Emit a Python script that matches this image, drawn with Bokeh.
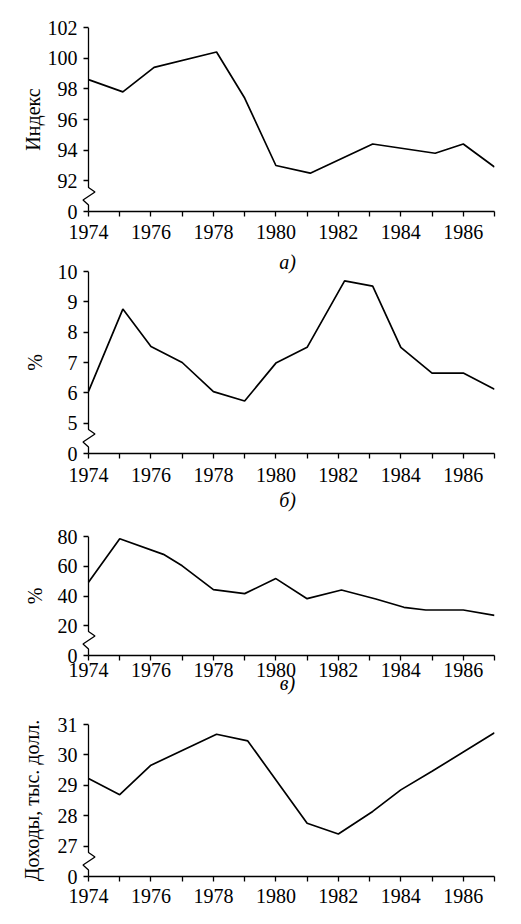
# Четыре графика: индекс, два ряда в %, доходы (1974-1987)
from bokeh.embed import file_html
from bokeh.layouts import column
from bokeh.models import FixedTicker, Range1d
from bokeh.plotting import figure
from bokeh.resources import INLINE

# --- данные ---
years_a = [1974, 1975.1, 1976.1, 1978.1, 1979, 1980, 1981.1, 1983.1, 1985.1, 1986, 1987]
index_a = [98.6, 97.8, 99.4, 100.4, 97.4, 93.0, 92.5, 94.4, 93.8, 94.4, 92.9]

years_b = [1974, 1975.1, 1976, 1977, 1978, 1979, 1980, 1981, 1982.2, 1983.1, 1984, 1985, 1986, 1987]
pct_b = [6.05, 8.76, 7.53, 7.0, 6.04, 5.73, 6.98, 7.5, 9.69, 9.52, 7.5, 6.65, 6.65, 6.12]

years_c = [1974, 1975, 1976.4, 1977, 1978, 1979, 1980, 1981, 1982.1, 1983.2, 1984.1, 1984.8, 1986, 1987]
pct_c = [49.2, 78.5, 68.0, 60.3, 44.3, 41.6, 51.7, 38.2, 44.0, 38.0, 32.4, 30.6, 30.6, 27.0]

years_d = [1974, 1975, 1976, 1978.1, 1979.1, 1981, 1982, 1983.1, 1984, 1985, 1987]
income_d = [29.22, 28.69, 29.66, 30.68, 30.46, 27.75, 27.4, 28.14, 28.85, 29.46, 30.73]

x_ticks = list(range(1974, 1988))
x_labels = {y: "" for y in x_ticks if y % 2 == 1}

ticks_a = [90, 92, 94, 96, 98, 100, 102]
ticks_b = [4, 5, 6, 7, 8, 9, 10]
ticks_c = [0, 20, 40, 60, 80]
ticks_d = [26, 27, 28, 29, 30, 31]

FONT = "Liberation Serif"
PAD = 8      # место слева от оси под излом
LEFT = 80    # колонка выравнивает рамки, поэтому поля общие
RIGHT = 19


def panel(xs, ys, y_lo, y_hi, y_ticks, zero_at, y_label, caption,
          top, frame_h, bottom, margin_top,
          x_std, cap_std, ylab_std):
    fw = 513 - LEFT - RIGHT
    x0 = 1974 - PAD * (1987 - 1974) / (fw - PAD)
    p = figure(width=513, height=top + frame_h + bottom,
               x_range=Range1d(x0, 1987), y_range=Range1d(y_lo, y_hi),
               output_backend="svg", toolbar_location=None,
               min_border_left=LEFT, min_border_right=RIGHT,
               min_border_top=top, min_border_bottom=bottom,
               margin=(margin_top, 0, 0, 0))
    p.grid.grid_line_color = None
    p.outline_line_color = None
    p.background_fill_alpha = 0
    p.border_fill_alpha = 0

    # ось Y с изломом: линию рисуем сами, в PAD пикселях от края рамки
    ux = (1987 - x0) / fw
    uy = (y_hi - y_lo) / frame_h
    zig = [(0, 24), (6.5, 19.5), (-5.5, 11.5), (0, 6.5), (0, 0)]
    ax_x = [1974] + [1974 + dx * ux for dx, dy in zig]
    ax_y = [y_hi] + [y_lo + dy * uy for dx, dy in zig]
    p.line(ax_x, ax_y, line_color="black", line_width=1.3)

    p.line(xs, ys, line_color="black", line_width=1.7)

    for ax in (p.xaxis, p.yaxis):
        ax.major_tick_in = 0
        ax.major_tick_out = 5
        ax.minor_tick_in = 0
        ax.minor_tick_out = 0
        ax.major_tick_line_width = 1.3
        ax.axis_line_width = 1.3
        ax.major_tick_line_color = "black"
        ax.axis_line_color = "black"
        ax.major_label_text_font = FONT
        ax.major_label_text_font_size = "20px"
        ax.major_label_text_color = "black"
        ax.axis_label_text_font = FONT
        ax.axis_label_text_font_size = "20px"
        ax.axis_label_text_color = "black"

    p.xaxis.ticker = FixedTicker(ticks=x_ticks)
    p.xaxis.major_label_overrides = x_labels
    p.xaxis.bounds = (1974, 1987)
    p.xaxis.major_label_standoff = x_std
    if caption:
        p.xaxis.axis_label = caption
        p.xaxis.axis_label_text_font_style = "italic"
        p.xaxis.axis_label_standoff = cap_std

    # штрихи оси Y сдвинуты внутрь рамки, к линии оси
    p.yaxis.axis_line_color = None
    p.yaxis.major_tick_in = PAD
    p.yaxis.major_tick_out = 5 - PAD
    p.yaxis.ticker = FixedTicker(ticks=y_ticks)
    if zero_at is not None:
        p.yaxis.major_label_overrides = {zero_at: "0"}
    p.yaxis.major_label_standoff = 3
    p.yaxis.axis_label = y_label
    p.yaxis.axis_label_text_font_style = "normal"
    p.yaxis.axis_label_standoff = ylab_std
    return p


pa = panel(years_a, index_a, 90, 102, ticks_a, 90, "Индекс", "а)",
           27, 184, 72, 0, 8, 9, 1)
pb = panel(years_b, pct_b, 4, 10, ticks_b, 4, "%", "б)",
           12, 182, 66, -24, 9, 4, 9)
pc = panel(years_c, pct_c, 0, 80, ticks_c, None, "%", "в)",
           12, 119, 48, 5, 2, -8, 9)
pd = panel(years_d, income_d, 26, 31, ticks_d, 26, "Доходы, тыс. долл.", None,
           12, 152, 40, 9, 7, 0, 12)

layout = column(pa, pb, pc, pd)
open("out.html", "w").write(file_html(layout, INLINE))
